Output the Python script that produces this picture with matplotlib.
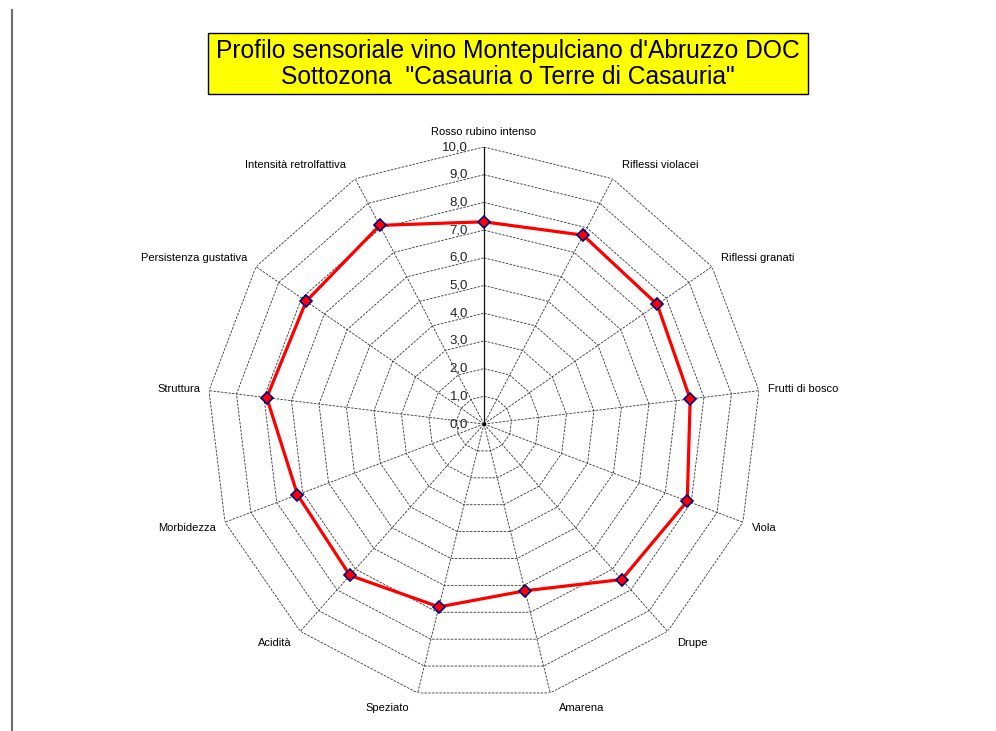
import numpy as np
import matplotlib.pyplot as plt
from matplotlib.patches import Rectangle
from matplotlib.lines import Line2D

categories = ["Rosso rubino intenso", "Riflessi violacei", "Riflessi granati",
              "Frutti di bosco", "Viola", "Drupe", "Amarena", "Speziato",
              "Acidità", "Morbidezza", "Struttura", "Persistenza gustativa",
              "Intensità retrolfattiva"]
values = [7.3, 7.7, 7.6, 7.5, 7.85, 7.5, 6.2, 6.8, 7.3, 7.2, 7.9, 7.8, 8.1]
levels = [0, 1, 2, 3, 4, 5, 6, 7, 8, 9, 10]
level_labels = ["0,0", "1,0", "2,0", "3,0", "4,0", "5,0", "6,0", "7,0",
                "8,0", "9,0", "10,0"]
title = "Profilo sensoriale vino Montepulciano d'Abruzzo DOC\nSottozona  \"Casauria o Terre di Casauria\""

plt.rcParams['font.family'] = ['Liberation Sans', 'DejaVu Sans']

fig = plt.figure(figsize=(9.96, 7.31), dpi=100)
ax = fig.add_axes([0.2078, 0.041, 0.5562, 0.7579], projection='polar')
ax.set_theta_zero_location('N')
ax.set_theta_direction(-1)
ax.axis('off')

n = len(categories)
theta = np.linspace(0, 2 * np.pi, n, endpoint=False)
theta_c = np.append(theta, theta[0])

# web
for lev in levels[1:]:
    ax.plot(theta_c, [lev] * (n + 1), color='#333333', lw=0.6, ls=(0, (3, 1.5)))
for t in theta[1:]:
    ax.plot([t, t], [0, levels[-1]], color='#333333', lw=0.6, ls=(0, (3, 1.5)))
ax.plot([0, 0], [0, levels[-1]], color='#111111', lw=0.9)
ax.plot([0], [0], 'k.', ms=3)
ax.set_ylim(0, levels[-1])

for lev, lab in zip(levels, level_labels):
    ax.annotate(lab, xy=(0, lev), xytext=(-16, 0), textcoords='offset pixels',
                ha='right', va='center', fontsize=9.5, color='#222222')

for t, lab in zip(theta, categories):
    s, c = np.sin(t), np.cos(t)
    if s > 0.15:
        ha, dx = 'left', 9
    elif s < -0.15:
        ha, dx = 'right', -9
    else:
        ha, dx = 'center', 0
    ax.annotate(lab, xy=(t, levels[-1]), xytext=(dx, 15 * c),
                textcoords='offset pixels', ha=ha, va='center', fontsize=8)

# data
vals_c = values + values[:1]
ax.plot(theta_c, vals_c, color='#ff0000', lw=2.3, zorder=5)
ax.plot(theta, values, 'D', ms=6.5, mfc='#ff0000', mec='#000080', mew=1.2, zorder=6)

# title box
fig.add_artist(Rectangle((208 / 996, 1 - 94 / 731), 600 / 996, 61 / 731,
                         transform=fig.transFigure, fc='#ffff00', ec='black', lw=1))
fig.text(508 / 996, 1 - 64 / 731, title, ha='center', va='center',
         fontsize=17.7, linespacing=1.08)

fig.add_artist(Line2D([12 / 996, 12 / 996], [0, 1 - 10 / 731], color='#6e6e6e',
                      lw=1.5, transform=fig.transFigure))

fig.savefig('out.png', dpi=100)
